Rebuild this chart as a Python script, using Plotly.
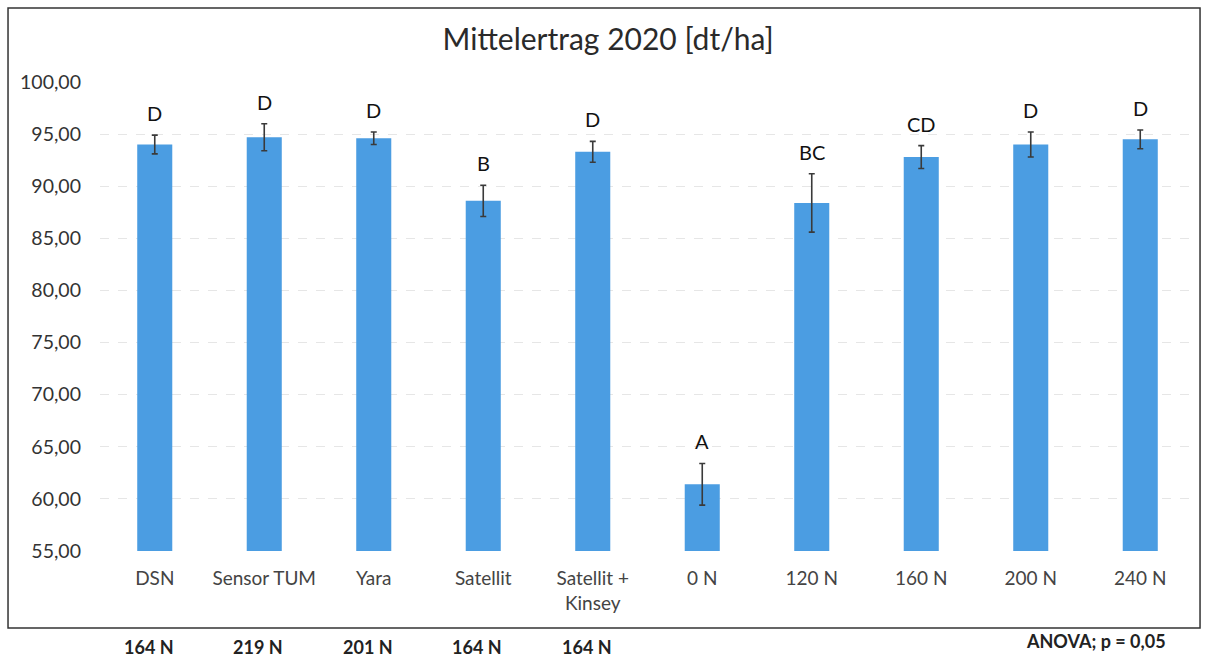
import plotly.graph_objects as go

# Mean yield 2020 per fertilisation strategy
categories = ["DSN", "Sensor TUM", "Yara", "Satellit", "Satellit +<br>Kinsey",
              "0 N", "120 N", "160 N", "200 N", "240 N"]
yield_mean = [94.0, 94.7, 94.6, 88.6, 93.3, 61.4, 88.4, 92.8, 94.0, 94.5]
yield_err = [0.9, 1.3, 0.6, 1.5, 1.0, 2.0, 2.8, 1.1, 1.2, 0.9]
group_letters = ["D", "D", "D", "B", "D", "A", "BC", "CD", "D", "D"]

# Applied nitrogen for the sensor/satellite strategies
n_categories = categories[:5]
n_applied = ["164 N", "219 N", "201 N", "164 N", "164 N"]

y_ticks = [55, 60, 65, 70, 75, 80, 85, 90, 95, 100]
y_tick_labels = ["55,00", "60,00", "65,00", "70,00", "75,00",
                 "80,00", "85,00", "90,00", "95,00", "100,00"]

FONT = "Lato, Carlito, 'Liberation Sans', sans-serif"
BAR_COLOR = "#4b9de2"

fig = go.Figure()
fig.add_trace(go.Bar(
    x=categories,
    y=[v - 55 for v in yield_mean],
    base=55,
    marker=dict(color=BAR_COLOR, line=dict(width=0)),
    error_y=dict(type="data", array=yield_err, color="#3a3a3a",
                 thickness=1.6, width=3),
    hoverinfo="skip",
))

annotations = []
for cat, m, e, lab in zip(categories, yield_mean, yield_err, group_letters):
    annotations.append(dict(
        x=cat, y=m + e, xref="x", yref="y", text=lab, showarrow=False,
        yanchor="bottom", yshift=8,
        font=dict(family=FONT, size=20, color="#111111"),
    ))

for cat, lab in zip(n_categories, n_applied):
    annotations.append(dict(
        x=cat, y=-0.205, xref="x", yref="paper", text="<b>" + lab + "</b>",
        showarrow=False, xshift=-6, yanchor="middle",
        font=dict(family=FONT, size=18, color="#222222"),
    ))

annotations.append(dict(
    x=1.0, y=-0.192, xref="paper", yref="paper", xanchor="right",
    yanchor="middle",
    text="<b>ANOVA; p = 0,05</b>", showarrow=False, xshift=-27,
    font=dict(family=FONT, size=18, color="#222222"),
))

# frame around the chart area
frame = dict(type="rect", xref="paper", yref="paper",
             x0=-0.084, x1=1.0046, y0=-0.164, y1=1.158,
             line=dict(color="#333333", width=1.5), layer="below")

fig.update_layout(
    width=1209, height=659,
    margin=dict(l=100, r=14, t=82, b=108),
    paper_bgcolor="white", plot_bgcolor="white",
    showlegend=False,
    title=dict(text="Mittelertrag 2020 [dt/ha]", x=0.503, xanchor="center",
               y=0.94, yanchor="middle",
               font=dict(family=FONT, size=30, color="#2a2a2a")),
    bargap=0.68,
    xaxis=dict(showline=False, ticks="", showgrid=False,
               ticklabelstandoff=14,
               tickfont=dict(family=FONT, size=19, color="#444444")),
    yaxis=dict(range=[55, 100], tickvals=y_ticks, ticktext=y_tick_labels,
               showgrid=True, gridcolor="#e6e6e6", griddash="dash",
               gridwidth=1, zeroline=False, showline=False,
               ticklabelstandoff=18,
               tickfont=dict(family=FONT, size=19.5, color="#333333")),
    shapes=[frame],
    annotations=annotations,
)

fig.write_html("out.html")
